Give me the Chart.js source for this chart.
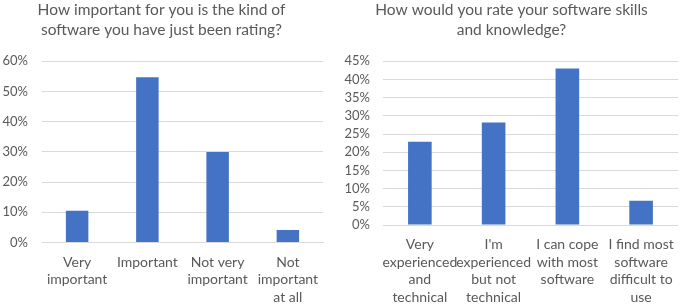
<!DOCTYPE html>
<html>
<head>
<meta charset="utf-8">
<script src="https://cdn.jsdelivr.net/npm/chart.js@4"></script>
<style>
  body { margin: 0; background: #fff; }
  .wrap { position: absolute; top: 0; height: 305px; }
</style>
</head>
<body>
<div class="wrap" style="left:0;width:340px"><canvas id="chartA"></canvas></div>
<div class="wrap" style="left:340px;width:345px"><canvas id="chartB"></canvas></div>
<script>
// left chart: importance of the software
var importanceLabels = [['Very', 'important'], 'Important', ['Not very', 'important'], ['Not', 'important', 'at all']];
var importanceValues = [10.5, 54.7, 30, 4.1];

// right chart: software skills
var skillLabels = [['Very', 'experienced', 'and', 'technical'], ["I'm", 'experienced', 'but not', 'technical'], ['I can cope', 'with most', 'software'], ['I find most', 'software', 'difficult to', 'use']];
var skillValues = [22.9, 28.2, 43.0, 6.7];

var textColor = '#595959';
var gridColor = '#d9d9d9';
var barColor = '#4472C4';
var fontFamily = 'Lato, "Open Sans", sans-serif';

function makeChart(id, title, labels, values, max, step, pad, yPad, yWidth) {
  var ctx = document.getElementById(id).getContext('2d');
  return new Chart(ctx, {
    type: 'bar',
    data: {
      labels: labels,
      datasets: [{
        data: values,
        backgroundColor: barColor,
        categoryPercentage: 1,
        barPercentage: 0.32
      }]
    },
    options: {
      responsive: true,
      maintainAspectRatio: false,
      animation: false,
      layout: { padding: pad },
      scales: {
        x: {
          grid: { display: false, drawTicks: false },
          border: { color: gridColor },
          ticks: {
            color: textColor,
            font: { family: fontFamily, size: 14, lineHeight: 1.25 },
            maxRotation: 0,
            autoSkip: false,
            padding: 11
          }
        },
        y: {
          min: 0,
          max: max,
          grid: { color: gridColor, drawTicks: false },
          border: { display: false },
          afterFit: function (scale) { scale.width = yWidth; },
          ticks: {
            stepSize: step,
            autoSkip: false,
            color: textColor,
            font: { family: fontFamily, size: 13 },
            padding: yPad,
            callback: function (v) { return v + '%'; }
          }
        }
      },
      plugins: {
        legend: { display: false },
        tooltip: { enabled: false },
        title: {
          display: true,
          text: title,
          color: textColor,
          font: { family: fontFamily, size: 15.5, weight: 'normal', lineHeight: 1.3 },
          padding: { top: 0, bottom: 21 }
        }
      }
    }
  });
}

makeChart('chartA', ['How important for you is the kind of', 'software you have just been rating?'],
  importanceLabels, importanceValues, 60, 10, { left: 0, right: 17, top: 0, bottom: -12 }, 14, 42);
makeChart('chartB', ['How would you rate your software skills', 'and knowledge?'],
  skillLabels, skillValues, 45, 5, { left: 0, right: 2, top: 0, bottom: -12 }, 13, 43);
</script>
</body>
</html>
